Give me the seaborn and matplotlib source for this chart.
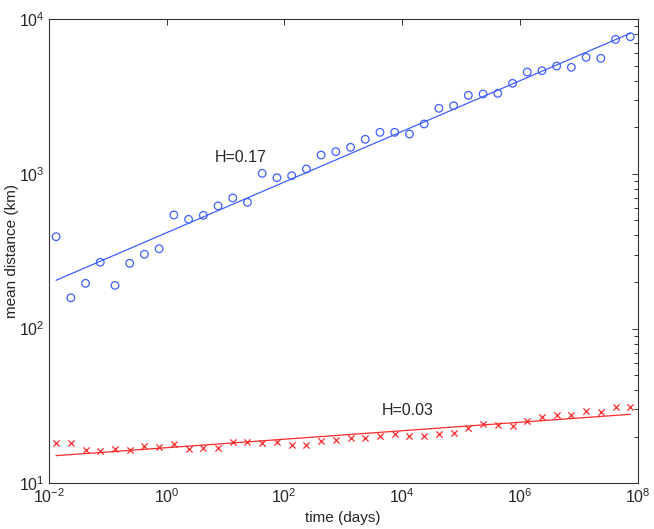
import numpy as np
import pandas as pd
import matplotlib
matplotlib.use('Agg')
import matplotlib.pyplot as plt
from matplotlib.ticker import LogLocator, NullLocator
import seaborn as sns

# time points: quarter-decade steps in log10(days)
log_time = -1.875 + 0.25 * np.arange(40)

# mean distance (km), blue circles
dist_blue = [392, 158, 196, 268, 190, 264, 302, 328, 542, 508,
             539, 620, 698, 654, 1007, 944, 972, 1074, 1322, 1390,
             1483, 1671, 1853, 1853, 1807, 2098, 2650, 2754, 3215, 3278,
             3311, 3843, 4545, 4634, 4970, 4875, 5658, 5572, 7392, 7686]

# mean distance (km), red crosses
dist_red = [18.2, 18.2, 16.4, 16.2, 16.7, 16.5, 17.5, 17.2, 17.9, 16.7,
            16.9, 17.0, 18.5, 18.5, 18.3, 18.4, 17.8, 17.8, 18.7, 19.1,
            19.6, 19.6, 20.2, 20.8, 20.3, 20.2, 20.8, 21.2, 22.8, 24.1,
            23.9, 23.5, 25.3, 27.0, 27.7, 27.7, 29.5, 28.7, 31.3, 31.3]

# power law fits: log10(d) = a + b*log10(t)
fit_blue = (2.619, 0.1637)
fit_red = (1.230, 0.0274)

labels = ['H=0.17', 'H=0.03']

blue = '#3f5fff'
red = '#ff2a2a'

sns.set_style('white')
plt.rcParams['font.family'] = ['Liberation Sans', 'DejaVu Sans']
plt.rcParams['mathtext.default'] = 'regular'

t = 10 ** log_time
df = pd.DataFrame({'t': t, 'blue': dist_blue, 'red': dist_red})
df['fit_blue'] = 10 ** (fit_blue[0] + fit_blue[1] * log_time)
df['fit_red'] = 10 ** (fit_red[0] + fit_red[1] * log_time)

fig = plt.figure(figsize=(6.54, 5.29), dpi=100)
ax = fig.add_axes([0.0745, 0.0864, 0.9005, 0.8776])
ax.set_xscale('log')
ax.set_yscale('log')

sns.scatterplot(data=df, x='t', y='blue', ax=ax, marker='o', s=30,
                facecolors='none', edgecolor=blue, linewidth=0.9)
sns.lineplot(data=df, x='t', y='fit_blue', ax=ax, color=blue, linewidth=0.9)
sns.scatterplot(data=df, x='t', y='red', ax=ax, marker='x', s=20,
                color=red, linewidth=0.9)
sns.lineplot(data=df, x='t', y='fit_red', ax=ax, color=red, linewidth=0.9)

ax.text(10 ** 0.82, 10 ** 3.104, labels[0], fontsize=11.5, va='center')
ax.text(10 ** 3.65, 10 ** 1.468, labels[1], fontsize=11.5, va='center')

ax.set_xlim(1e-2, 1e8)
ax.set_ylim(1e1, 1e4)
ax.xaxis.set_major_locator(LogLocator(base=100.0, numticks=10))
ax.xaxis.set_minor_locator(NullLocator())
ax.yaxis.set_major_locator(LogLocator(base=10.0, numticks=10))
ax.yaxis.set_minor_locator(LogLocator(base=10.0, subs=np.arange(2, 10), numticks=20))

ax.tick_params(which='both', direction='in', top=True, right=True,
               labelsize=11.5, color='#333333')
ax.tick_params(which='major', length=4.3, width=0.7, pad=3)
ax.tick_params(which='minor', length=3.2, width=0.7)
for sp in ax.spines.values():
    sp.set_color('#333333')
    sp.set_linewidth(0.8)

ax.set_xlabel('time (days)', fontsize=11)
ax.set_ylabel('mean distance (km)', fontsize=11)
ax.xaxis.set_label_coords(0.5, -0.075, transform=ax.transAxes)
ax.yaxis.set_label_coords(-0.062, 0.5, transform=ax.transAxes)
ax.xaxis.label.set_va('center')
ax.yaxis.label.set_va('center')

fig.savefig('out.png', dpi=100)
